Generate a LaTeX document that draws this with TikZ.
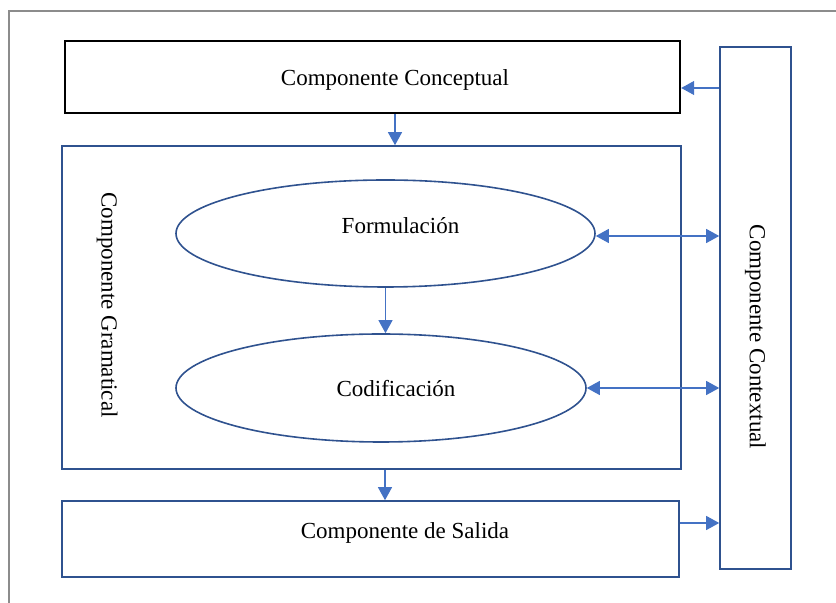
\documentclass[tikz,border=0pt]{standalone}
\usepackage{fontspec}
\setmainfont{Liberation Serif}
\usepackage{tikz}
\usetikzlibrary{arrows.meta,positioning,calc,shapes.geometric}
\definecolor{boxblue}{RGB}{47,82,143}
\definecolor{arrowblue}{RGB}{68,114,196}
\definecolor{framegray}{RGB}{140,140,140}

\begin{document}
\begin{tikzpicture}[x=0.5pt,y=-0.5pt,
 comp/.style={rectangle,draw=boxblue,line width=0.8pt,inner sep=0pt},
 concept/.style={comp,draw=black,line width=1.2pt},
 oval/.style={ellipse,draw=boxblue,line width=0.8pt,inner sep=0pt},
 arr/.style={-{Triangle[length=6.5pt,width=7pt]},arrowblue,line width=0.6pt},
 dblarr/.style={{Triangle[length=6.5pt,width=7pt]}-{Triangle[length=6.5pt,width=7pt]},arrowblue,line width=0.6pt},
 font=\fontsize{11.5}{13}\selectfont
]
\useasboundingbox (0,0) rectangle (836,603);
\draw[framegray,line width=0.8pt] (9,620) -- (9,11) -- (850,11);
% boxes
\node[concept,minimum width=307.5pt,minimum height=36pt,label={[xshift=11.25pt,yshift=-1.5pt]center:Componente Conceptual}] (concept) at (372.5,77) {};
\node[comp,minimum width=309.5pt,minimum height=161.5pt] (gram) at (371.5,307.5) {};
\node[rotate=-90] (gramtxt) at ([xshift=23pt,yshift=1.25pt]gram.west) {Componente Gramatical};
\node[oval,minimum width=209.5pt,minimum height=53.5pt,label={[xshift=7.5pt,yshift=3.75pt]center:Formulación}] (form) at (385.5,233.5) {};
\node[oval,minimum width=205pt,minimum height=54pt,label={[xshift=7.5pt,yshift=-0.5pt]center:Codificación}] (cod) at (381,388) {};
\node[comp,minimum width=308.5pt,minimum height=38pt,label={[xshift=17.25pt,yshift=3pt]center:Componente de Salida}] (sal) at (370.5,539) {};
\node[comp,minimum width=35.5pt,minimum height=261pt] (ctx) at (755.5,308) {};
\node[rotate=-90] (ctxtxt) at ([yshift=-14.5pt]ctx.center) {Componente Contextual};
% connectors
\coordinate (c1) at ([yshift=-5.5pt]concept.east);
\coordinate (c2) at ([yshift=8pt]sal.east);
\coordinate (c3) at ([yshift=-1.25pt]form.east);
\draw[arr] ([xshift=11.25pt]concept.south) -- ([xshift=11.25pt]concept.south |- gram.north);
\draw[arr] (form.south) -- (form.south |- cod.north);
\draw[arr] ([xshift=6.75pt]gram.south) -- ([xshift=6.75pt]gram.south |- sal.north);
\draw[arr] (ctx.west |- c1) -- (c1);
\draw[dblarr] (c3) -- (c3 -| ctx.west);
\draw[dblarr] (cod.east) -- (cod.east -| ctx.west);
\draw[arr] (c2) -- (c2 -| ctx.west);
\end{tikzpicture}
\end{document}
